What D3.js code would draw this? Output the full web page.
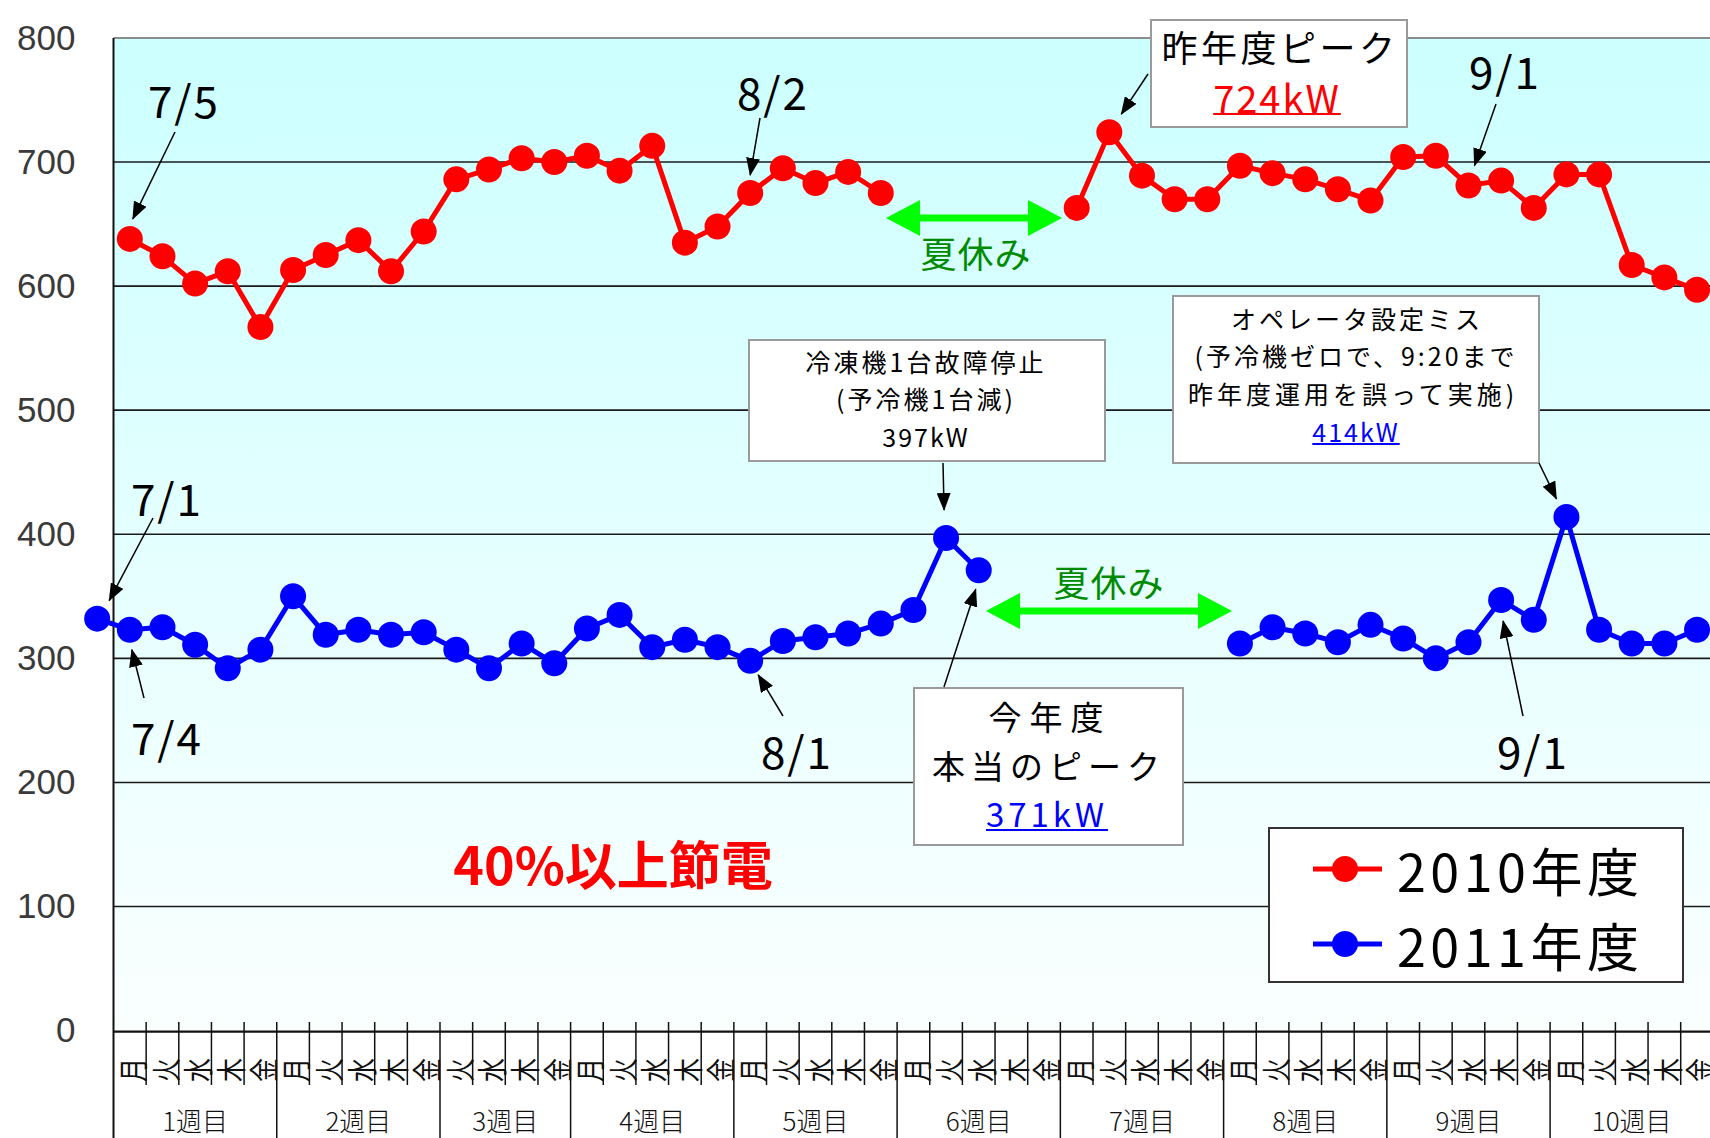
<!DOCTYPE html>
<html>
<head>
<meta charset="utf-8">
<script src="https://cdn.jsdelivr.net/npm/d3@7"></script>
<style>
  html, body { margin: 0; padding: 0; background: #fff; overflow: hidden; }
  svg { display: block; }
</style>
</head>
<body>
<svg id="chart" width="1710" height="1138"></svg>
<script>
// ---- data ------------------------------------------------------------
const weekLabels = ["1週目", "2週目", "3週目", "4週目", "5週目", "6週目", "7週目", "8週目", "9週目", "10週目"];
const weekDays = [
  ["月", "火", "水", "木", "金"],
  ["月", "火", "水", "木", "金"],
  ["火", "水", "木", "金"],
  ["月", "火", "水", "木", "金"],
  ["月", "火", "水", "木", "金"],
  ["月", "火", "水", "木", "金"],
  ["月", "火", "水", "木", "金"],
  ["月", "火", "水", "木", "金"],
  ["月", "火", "水", "木", "金"],
  ["月", "火", "水", "木", "金"]
];
const yTicks = [0, 100, 200, 300, 400, 500, 600, 700, 800];

// daily peak demand (kW), one value per weekday slot; null = summer holidays
const values2010 = [
  638, 624, 602, 612, 567,
  613, 625, 637, 612, 644,
  686, 694, 703, 700,
  705, 693, 713, 635, 648,
  675, 695, 683, 692, 675,
  null, null, null, null, null,
  663, 724, 689, 670, 670,
  697, 691, 686, 678, 669,
  704, 705, 681, 685, 663,
  690, 690, 617, 607, 597
];
const values2011 = [
  323, 325, 311, 292, 307,
  350, 319, 323, 319, 321,
  307, 292, 312, 296,
  324, 335, 309, 315, 309,
  298, 314, 317, 320, 328,
  339, 397, 371, null, null,
  null, null, null, null, null,
  312, 325, 320, 313, 327,
  316, 300, 313, 347, 331,
  414, 323, 312, 312, 323
];
// 2011: Friday 7/1 sits one slot before week 1
const value2011Jul1 = 332;

const seriesNames = ["2010年度", "2011年度"];
const seriesColors = ["#ff0000", "#0000ff"];

// ---- layout ----------------------------------------------------------
const W = 1710, H = 1138;
const plotLeft = 113.5, slotW = 32.65;
const yTop = 37.9, yBase = 1030.6;
const JP = "'Noto Sans CJK JP', 'Noto Sans', sans-serif";

const slots = weekDays.flatMap((days, w) => days.map((d, k) => ({ day: d, week: w, first: k === 0 })));
const nSlots = slots.length;

const x = d3.scaleLinear().domain([0, nSlots]).range([plotLeft, plotLeft + nSlots * slotW]);
const y = d3.scaleLinear().domain([0, 800]).range([yBase, yTop]);
const cx = i => x(i + 0.5);

const svg = d3.select("#chart");
const defs = svg.append("defs");

const grad = defs.append("linearGradient").attr("id", "bg").attr("x1", 0).attr("y1", 0).attr("x2", 0).attr("y2", 1);
grad.append("stop").attr("offset", "0%").attr("stop-color", "#ccffff");
grad.append("stop").attr("offset", "55%").attr("stop-color", "#e6ffff");
grad.append("stop").attr("offset", "100%").attr("stop-color", "#fafffe");

defs.append("marker")
  .attr("id", "arrowHead").attr("markerUnits", "userSpaceOnUse")
  .attr("markerWidth", 18).attr("markerHeight", 14)
  .attr("refX", 17).attr("refY", 7).attr("orient", "auto")
  .append("path").attr("d", "M0,0 L18,7 L0,14 Z").attr("fill", "#000");

// plot background
svg.append("rect")
  .attr("x", plotLeft).attr("y", yTop)
  .attr("width", x(nSlots) - plotLeft).attr("height", yBase - yTop)
  .attr("fill", "url(#bg)");

// horizontal grid
svg.append("g").selectAll("line")
  .data(yTicks.filter(v => v > 0 && v < 800))
  .join("line")
  .attr("x1", plotLeft).attr("x2", x(nSlots))
  .attr("y1", d => y(d)).attr("y2", d => y(d))
  .attr("stroke", "#1a1a1a").attr("stroke-width", 1.6);
svg.append("line")
  .attr("x1", plotLeft).attr("x2", x(nSlots))
  .attr("y1", y(800)).attr("y2", y(800))
  .attr("stroke", "#8c8c8c").attr("stroke-width", 2);

// y axis labels
const yAxis = svg.append("g")
  .attr("transform", `translate(${plotLeft},0)`)
  .call(d3.axisLeft(y).tickValues(yTicks).tickSize(0).tickPadding(38));
yAxis.select(".domain").remove();
yAxis.selectAll("text")
  .attr("font-family", "'Liberation Sans', Arial, sans-serif")
  .attr("font-size", 35).attr("fill", "#3a3a3a");

// category axis: baseline, slot ticks, day & week labels
svg.append("line")
  .attr("x1", plotLeft).attr("x2", x(nSlots))
  .attr("y1", yBase + 1).attr("y2", yBase + 1)
  .attr("stroke", "#111").attr("stroke-width", 2.2);
svg.append("line")
  .attr("x1", plotLeft).attr("x2", plotLeft)
  .attr("y1", yTop).attr("y2", H)
  .attr("stroke", "#111").attr("stroke-width", 2);

const boundaries = d3.range(1, nSlots + 1).map(i => ({ i, week: i === nSlots || slots[i].first }));
svg.append("g").selectAll("line")
  .data(boundaries)
  .join("line")
  .attr("x1", d => x(d.i)).attr("x2", d => x(d.i))
  .attr("y1", 1022).attr("y2", d => d.week ? H : 1085)
  .attr("stroke", "#111").attr("stroke-width", 1.5);

svg.append("g").selectAll("text")
  .data(slots)
  .join("text")
  .attr("transform", (d, i) => `translate(${cx(i) + 1},1070) rotate(-90) scale(0.8,1)`)
  .attr("text-anchor", "middle").attr("dominant-baseline", "central")
  .attr("font-family", JP).attr("font-size", 30).attr("font-weight", 400).attr("fill", "#111")
  .text(d => d.day);

const weekSpans = weekDays.map((days, w) => {
  const start = slots.findIndex(s => s.week === w);
  return { w, start, end: start + days.length };
});
svg.append("g").selectAll("text")
  .data(weekSpans)
  .join("text")
  .attr("x", d => (x(d.start) + x(d.end)) / 2).attr("y", 1119)
  .attr("text-anchor", "middle").attr("dominant-baseline", "central")
  .attr("font-family", JP).attr("font-size", 26).attr("font-weight", 300).attr("fill", "#111")
  .text(d => weekLabels[d.w]);

// ---- series ----------------------------------------------------------
const pts2010 = values2010.map((v, i) => ({ i, v }));
const pts2011 = [{ i: -1, v: value2011Jul1 }].concat(values2011.map((v, i) => ({ i, v })));
const line = d3.line().defined(d => d.v != null).x(d => cx(d.i)).y(d => y(d.v));

[pts2010, pts2011].forEach((pts, s) => {
  svg.append("path").datum(pts)
    .attr("d", line).attr("fill", "none")
    .attr("stroke", seriesColors[s]).attr("stroke-width", 5).attr("stroke-linejoin", "round");
  svg.append("g").selectAll("circle")
    .data(pts.filter(d => d.v != null))
    .join("circle")
    .attr("cx", d => cx(d.i)).attr("cy", d => y(d.v)).attr("r", 13)
    .attr("fill", seriesColors[s]);
});

// ---- annotations -----------------------------------------------------
function arrow(x1, y1, x2, y2) {
  svg.append("line")
    .attr("x1", x1).attr("y1", y1).attr("x2", x2).attr("y2", y2)
    .attr("stroke", "#000").attr("stroke-width", 1.5)
    .attr("marker-end", "url(#arrowHead)");
}
function label(txt, tx, ty, size, opts = {}) {
  const t = svg.append("text")
    .attr("x", tx).attr("y", ty)
    .attr("text-anchor", "middle").attr("dominant-baseline", "central")
    .attr("font-family", JP).attr("font-size", size)
    .attr("font-weight", opts.weight || 400)
    .attr("letter-spacing", opts.spacing || 0)
    .attr("fill", opts.color || "#000")
    .text(txt);
  if (opts.underline) {
    const w = t.node().getComputedTextLength();
    svg.append("line")
      .attr("x1", tx - w / 2).attr("x2", tx + w / 2)
      .attr("y1", ty + opts.underline).attr("y2", ty + opts.underline)
      .attr("stroke", opts.color).attr("stroke-width", 2.2);
  }
  return t;
}
function box(x0, y0, x1, y1) {
  svg.append("rect")
    .attr("x", x0).attr("y", y0).attr("width", x1 - x0).attr("height", y1 - y0)
    .attr("fill", "#fff").attr("stroke", "#9a9a9a").attr("stroke-width", 2);
}
function holidayArrow(x1, x2, yy, textX, textY) {
  const head = 34, half = 18, shaft = 3.5;
  svg.append("path")
    .attr("d", `M${x1},${yy} L${x1 + head},${yy - half} L${x1 + head},${yy - shaft} L${x2 - head},${yy - shaft}
                L${x2 - head},${yy - half} L${x2},${yy} L${x2 - head},${yy + half} L${x2 - head},${yy + shaft}
                L${x1 + head},${yy + shaft} L${x1 + head},${yy + half} Z`)
    .attr("fill", "#00ff00");
  label("夏休み", textX, textY, 36, { color: "#008a00", spacing: 1 });
}

// dates on 2010
label("7/5", 184, 99, 44, { spacing: 2 });
arrow(175, 132, cx(0) + 3, y(values2010[0]) - 20);
label("8/2", 773, 91, 44, { spacing: 2 });
arrow(760, 118, cx(19), y(values2010[19]) - 18);
label("9/1", 1505, 70, 44, { spacing: 2 });
arrow(1496, 104, cx(41) + 6, y(values2010[41]) - 20);

// last year's peak
box(1151, 20, 1407, 127);
label("昨年度ピーク", 1280, 46, 36, { spacing: 3.5 });
label(`${values2010[30]}kW`, 1277, 96, 38, { color: "#ff0000", spacing: 2, underline: 18 });
arrow(1148, 74, cx(30) + 12, y(values2010[30]) - 18);

// summer holiday spans
holidayArrow(886, 1062, 218, 976, 252);
holidayArrow(986, 1232, 611, 1109, 581);

// 2011 dates
label("7/1", 167, 497, 44, { spacing: 2 });
arrow(153, 518, cx(-1) + 12, y(value2011Jul1) - 18);
label("7/4", 167, 736, 44, { spacing: 2 });
arrow(144, 698, cx(0) + 2, y(values2011[0]) + 20);
label("8/1", 797, 750, 44, { spacing: 2 });
arrow(783, 716, cx(19) + 8, y(values2011[19]) + 14);
label("9/1", 1533, 750, 44, { spacing: 2 });
arrow(1523, 716, cx(42) + 2, y(values2011[42]) + 21);

// chiller failure
box(749, 340, 1105, 461);
label("冷凍機1台故障停止", 926, 361, 25, { spacing: 3 });
label("(予冷機1台減)", 926, 398, 25, { spacing: 3 });
label(`${values2011[25]}kW`, 926, 436, 25, { spacing: 2 });
arrow(943, 463, cx(25) - 2, y(values2011[25]) - 28);

// this year's true peak
box(914, 688, 1183, 845);
label("今年度", 1050, 716, 33, { spacing: 8 });
label("本当のピーク", 1049, 765, 33, { spacing: 6 });
label(`${values2011[26]}kW`, 1047, 813, 33, { color: "#0000ff", spacing: 4, underline: 17 });
arrow(944, 687, cx(26) - 3, y(values2011[26]) + 19);

// operator setting error
box(1173, 296, 1539, 463);
label("オペレータ設定ミス", 1357, 318, 25, { spacing: 3 });
label("(予冷機ゼロで、9:20まで", 1356, 355, 25, { spacing: 3 });
label("昨年度運用を誤って実施)", 1353, 393, 25, { spacing: 4 });
label(`${values2011[44]}kW`, 1356, 431, 25, { color: "#0000ff", spacing: 2, underline: 13 });
arrow(1539, 463, cx(44) - 10, y(values2011[44]) - 18);

// savings note
label("40%以上節電", 613, 862, 52, { color: "#ff0000", weight: 700 });

// ---- legend ----------------------------------------------------------
svg.append("rect")
  .attr("x", 1269).attr("y", 828).attr("width", 414).attr("height", 154)
  .attr("fill", "#fff").attr("stroke", "#333").attr("stroke-width", 2);
const leg = svg.append("g").selectAll("g")
  .data(seriesNames)
  .join("g")
  .attr("transform", (d, i) => `translate(0,${869 + i * 75})`);
leg.append("line")
  .attr("x1", 1313).attr("x2", 1382).attr("y1", 0).attr("y2", 0)
  .attr("stroke", (d, i) => seriesColors[i]).attr("stroke-width", 5);
leg.append("circle")
  .attr("cx", 1345).attr("cy", 0).attr("r", 13)
  .attr("fill", (d, i) => seriesColors[i]);
leg.append("text")
  .attr("x", 1397).attr("y", 0)
  .attr("dominant-baseline", "central")
  .attr("font-family", JP).attr("font-size", 52).attr("letter-spacing", 4.5)
  .attr("fill", "#000")
  .text(d => d);
</script>
</body>
</html>
